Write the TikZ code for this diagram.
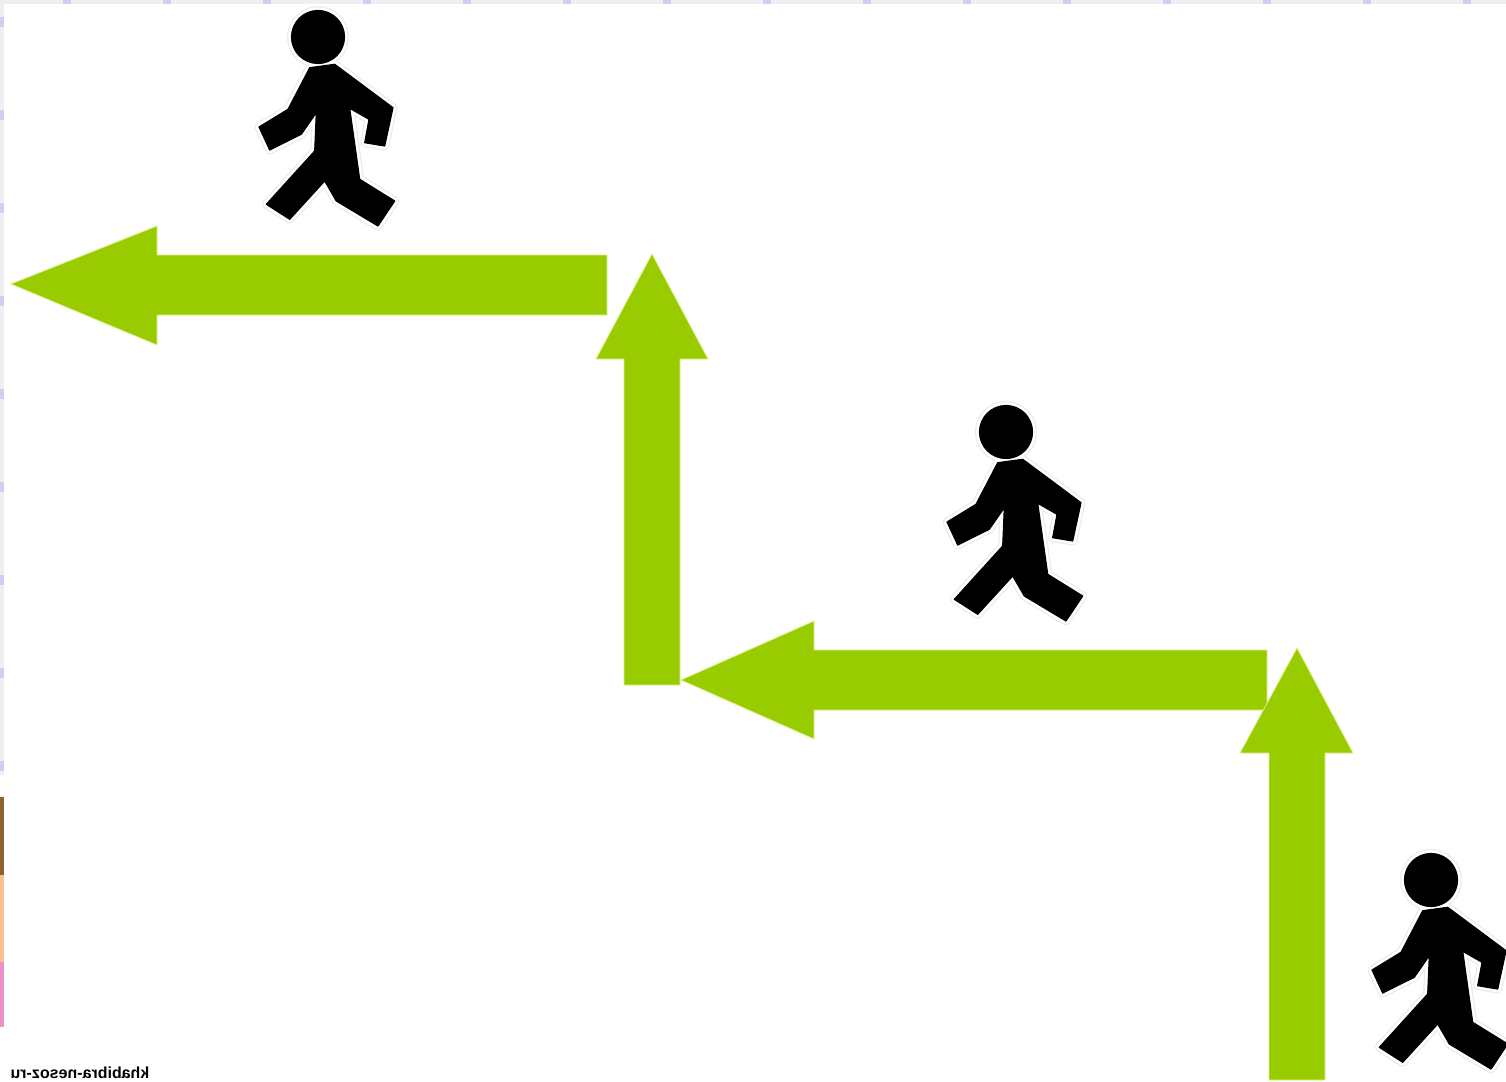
\documentclass[tikz,border=0pt]{standalone}
\usepackage{xcolor}
\usepackage{fontspec}
\setmainfont{Liberation Sans}
\usetikzlibrary{positioning}
\definecolor{arrowgreen}{HTML}{99CC00}
\definecolor{arrowedge}{HTML}{DDF08A}
\definecolor{stripgray}{HTML}{EFEEF2}
\definecolor{tickblue}{HTML}{D0CDF0}
\definecolor{photobrown}{HTML}{8F6236}
\definecolor{photopeach}{HTML}{FAC08E}
\definecolor{photopink}{HTML}{F090C8}

\begin{document}
\begin{tikzpicture}[
  x=1pt, y=-1pt,
  steparrow/.style={fill=arrowgreen, draw=arrowedge, line width=0.8pt},
  strip/.style={fill=stripgray, draw=none},
  tickmark/.style={fill=tickblue, draw=none},
  figure/.style={fill=black, draw=black, line width=1.2pt, line join=round},
  halo/.style={draw=black!8, line width=9pt, line join=round},
  haloinner/.style={draw=white, line width=6.5pt, line join=round},
  walker/.pic={
    \foreach \look in {halo, haloinner, figure} {
      \path[\look] (0,0) circle (26.5);
      \path[\look] (-8.3,30.7) -- (16.7,27.3) -- (75,70.7) -- (66.7,109) -- (46.7,105.7)
        -- (51,82.3) -- (31.7,71.3) -- (41.7,142.3) -- (76.7,164) -- (60,189)
        -- (18.3,164) -- (6.7,144) -- (-28.3,182.3) -- (-51.7,167.3) -- (-3.3,114)
        -- (-1.7,75.7) -- (-16.7,97.3) -- (-48.3,113) -- (-59,90) -- (-30,72.3) -- cycle;
    }
  }
]
\clip (0,0) rectangle (1506,1081);
\fill[white] (0,0) rectangle (1506,1081);

% --- Page edge strips ---
\path[strip] (0,0) rectangle (1506,4);
\path[strip] (0,0) rectangle (4,775);
\foreach \x in {67,167,...,1467} {
  \path[tickmark] (\x-4,0) rectangle (\x+4,4);
}
\foreach \y in {22,115,...,770} {
  \path[tickmark] (0,\y-5) rectangle (4,\y+5);
}

% --- Cut-off photo at the left edge ---
\fill[photobrown] (0,797) rectangle (4,875);
\fill[photopeach] (0,875) rectangle (4,962);
\fill[photopink] (0,962) rectangle (4,1027);

% --- Arrows ---
\path[steparrow] (11,284) -- (157,226) -- (157,255) -- (607,255) -- (607,315) -- (157,315) -- (157,345) -- cycle;
\path[steparrow] (652,254) -- (708,359) -- (680,359) -- (680,685) -- (624,685) -- (624,359) -- (596,359) -- cycle;
\path[steparrow] (681,680) -- (814,621) -- (814,650) -- (1267,650) -- (1267,710) -- (814,710) -- (814,739) -- cycle;
\path[steparrow] (1297,648) -- (1353,753) -- (1325,753) -- (1325,1080) -- (1269,1080) -- (1269,753) -- (1240,753) -- cycle;

% --- Walkers ---
\pic (walker1) at (318,37) {walker};
\pic (walker2) at (1006,432) {walker};
\pic (walker3) at (1431,880) {walker};

% --- Mirrored credit ---
\node[xscale=-1, transform shape, anchor=north, inner sep=0pt, font=\bfseries\fontsize{16}{16}\selectfont] (credit) at (80,1067) {khabibra-nesoz-ru};

\end{tikzpicture}
\end{document}
